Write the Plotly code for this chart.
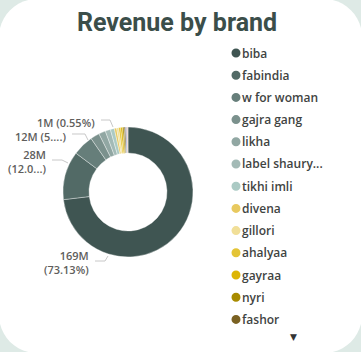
import plotly.graph_objects as go

# ---- data (values in millions) ----
brands = ["biba", "fabindia", "w for woman", "gajra gang", "likha", "label shaurya",
          "tikhi imli", "divena", "gillori", "ahalyaa", "gayraa", "nyri", "fashor",
          "brand 14", "brand 15", "brand 16"]
revenue_m = [169.0, 27.9, 12.0, 5.2, 3.9, 3.0, 2.3, 1.27, 1.2, 1.15, 1.1, 0.9, 0.8,
             0.6, 0.45, 0.33]
colors = ["#3f5552", "#526a66", "#667e7a", "#7b918d", "#91a7a3", "#a3bab6",
          "#abcac4", "#e8c95f", "#f1df98", "#e4c436", "#ddb503", "#a88b00", "#7a6122",
          "#5b7fd6", "#e8925e", "#c9a1a0"]
legend_count = 13  # legend entries visible before the scroll arrow

W, H = 361, 352
total = sum(revenue_m)

def px(x):
    return x / W

def py(y):
    return 1 - y / H

fig = go.Figure()

# donut geometry (pixels)
cx, cy, R = 128, 192, 65
fig.add_trace(go.Pie(
    labels=brands, values=revenue_m, hole=0.6, sort=False, direction="clockwise",
    rotation=0, textinfo="none", showlegend=False,
    marker=dict(colors=colors, line=dict(color="rgba(255,255,255,0.6)", width=0.6)),
    domain=dict(x=[px(cx - R), px(cx + R)], y=[py(cy + R), py(cy - R)]),
    hoverinfo="label+value+percent",
))

shapes = []
annotations = []

# card background
bg = "#deeae6"
r = 38
x0, x1, y0, y1 = -1, W + 1, -1, H + 1
k = 0.5523 * r
def P(x, y):
    return f"{px(x):.5f},{py(y):.5f}"
path = (f"M {P(x0, y0 + r)} "
        f"C {P(x0, y0 + r - k)} {P(x0 + r - k, y0)} {P(x0 + r, y0)} "
        f"L {P(x1 - r, y0)} "
        f"C {P(x1 - r + k, y0)} {P(x1, y0 + r - k)} {P(x1, y0 + r)} "
        f"L {P(x1, y1 - r)} "
        f"C {P(x1, y1 - r + k)} {P(x1 - r + k, y1)} {P(x1 - r, y1)} "
        f"L {P(x0 + r, y1)} "
        f"C {P(x0 + r - k, y1)} {P(x0, y1 - r + k)} {P(x0, y1 - r)} Z")
shapes.append(dict(type="path", path=path, xref="paper", yref="paper",
                   fillcolor="white", line=dict(width=0), layer="below"))

# title
annotations.append(dict(text="<b>Revenue by brand</b>", x=px(176.5), y=py(22),
                        xref="paper", yref="paper", showarrow=False,
                        xanchor="center", yanchor="middle",
                        font=dict(family="Roboto", size=25, color="#3b4e4a")))

# data labels
lab_font = dict(family="Open Sans", size=11, color="#605e5c", weight=600)
line_col = "#c8c8c8"

def pct(i):
    return revenue_m[i] / total * 100

def mval(i):
    return f"{round(revenue_m[i])}M"

label_specs = [
    # index, text, right x, center y, leader polyline
    (0, f"{mval(0)}<br>({pct(0):.2f}%)", 91, 262, [(95, 261), (105, 261), (108, 256)]),
    (1, f"{mval(1)}<br>" + f"({pct(1):.2f}%)"[:5] + "...)", 48, 161, [(52, 160), (62, 160), (68, 163)]),
    (2, f"{mval(2)} " + f"({pct(2):.2f}%)"[:3] + "...)", 68, 136, [(72, 134), (85, 134), (88, 140)]),
    (7, f"1M ({pct(7):.2f}%)", 97, 123, [(101, 120), (110, 120), (113, 127)]),
]
for i, txt, rx, yc, pts in label_specs:
    annotations.append(dict(text=txt, x=px(rx), y=py(yc), xref="paper", yref="paper",
                            showarrow=False, xanchor="right", yanchor="middle",
                            align="right", font=lab_font))
    p = "M " + " L ".join(P(a, b) for a, b in pts)
    shapes.append(dict(type="path", path=p, xref="paper", yref="paper",
                       line=dict(color=line_col, width=1)))

# legend (manual, Power BI style)
leg_font = dict(family="Open Sans", size=12, color="#3f4442", weight=600)
row0, step = 53, 22.2
for j in range(legend_count):
    yc = row0 + j * step
    name = brands[j]
    disp = name if len(name) <= 12 else name[:12] + "..."
    shapes.append(dict(type="circle", xref="paper", yref="paper",
                       x0=px(231.5), x1=px(240.5), y0=py(yc + 4.5), y1=py(yc - 4.5),
                       fillcolor=colors[j], line=dict(width=0)))
    annotations.append(dict(text=disp, x=px(239.5), y=py(yc), xref="paper", yref="paper",
                            showarrow=False, xanchor="left", yanchor="middle",
                            font=leg_font))

annotations.append(dict(text="▼", x=px(293), y=py(336.5), xref="paper", yref="paper",
                        showarrow=False, xanchor="center", yanchor="middle",
                        font=dict(family="DejaVu Sans", size=9, color="#333333")))

fig.update_layout(
    width=W, height=H, margin=dict(l=0, r=0, t=0, b=0),
    paper_bgcolor=bg, plot_bgcolor=bg,
    shapes=shapes, annotations=annotations, showlegend=False,
)

fig.write_html("out.html")
